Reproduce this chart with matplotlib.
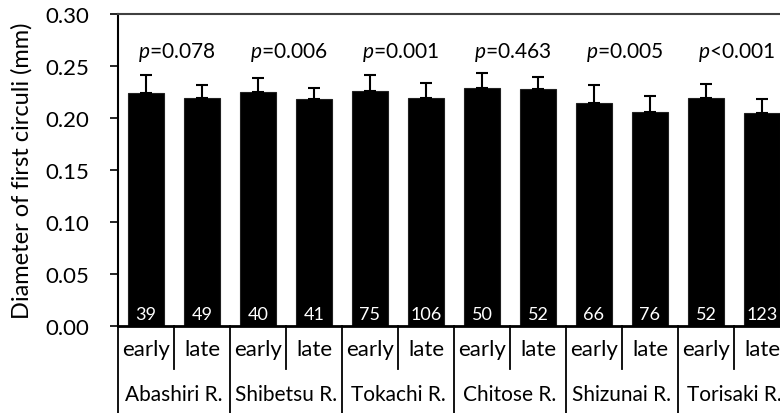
import matplotlib
matplotlib.use("Agg")
import matplotlib.pyplot as plt
import matplotlib.transforms as mtransforms
import numpy as np

rivers = ["Abashiri R.", "Shibetsu R.", "Tokachi R.", "Chitose R.", "Shizunai R.", "Torisaki R."]
groups = ["early", "late"]
means = [0.224, 0.219, 0.225, 0.218, 0.226, 0.219, 0.229, 0.2275, 0.214, 0.206, 0.2195, 0.205]
sds = [0.017, 0.013, 0.013, 0.011, 0.015, 0.0145, 0.014, 0.0115, 0.0177, 0.015, 0.013, 0.0135]
counts = [39, 49, 40, 41, 75, 106, 50, 52, 66, 76, 52, 123]
pvals = ["=0.078", "=0.006", "=0.001", "=0.463", "=0.005", "<0.001"]
yticks = [0.00, 0.05, 0.10, 0.15, 0.20, 0.25, 0.30]

plt.rcParams['font.family'] = ['Lato', 'DejaVu Sans']
plt.rcParams['mathtext.fontset'] = 'custom'
plt.rcParams['mathtext.it'] = 'Lato:italic'
plt.rcParams['mathtext.rm'] = 'Lato'

fig = plt.figure(figsize=(7.8, 4.14), dpi=100)
ax = fig.add_axes([118/780, 1-327/414, 672/780, 312/414])

n = len(means)
x = np.arange(n)
ax.bar(x, means, width=0.66, color='black', edgecolor='#202020', linewidth=0.8, zorder=2)
ax.errorbar(x, means, yerr=[np.zeros(n), sds], fmt='none', ecolor='black',
            elinewidth=1.5, capsize=4, capthick=1.5, zorder=3)

ax.set_xlim(-0.5, n - 0.5)
ax.set_ylim(0, 0.30)
ax.set_yticks(yticks)
ax.set_yticklabels([f"{v:.2f}" for v in yticks], fontsize=16)
ax.tick_params(axis='y', direction='out', length=6, width=1.2, pad=15)
ax.set_xticks([])
ax.set_ylabel("Diameter of first circuli (mm)", fontsize=17, labelpad=9)

ax.spines['right'].set_visible(False)
ax.spines['top'].set_color('#404040')
ax.spines['top'].set_linewidth(1.5)
ax.spines['left'].set_linewidth(1.5)
ax.spines['bottom'].set_linewidth(2)

trans = mtransforms.blended_transform_factory(ax.transData, ax.transAxes)

# counts inside bars
for xi, c in zip(x, counts):
    ax.text(xi, 0.012, str(c), color='white', ha='center', va='center', fontsize=13, zorder=4)

# p-values
for gi, p in enumerate(pvals):
    ax.text(2*gi + 0.55, 0.264, r"$\it{p}$" + p, ha='center', va='center', fontsize=15)

# category labels & separators
for xi in x:
    ax.text(xi, -0.074, groups[xi % 2], transform=trans, ha='center', va='center', fontsize=16)
for gi, r in enumerate(rivers):
    ax.text(2*gi + 0.5, -0.218, r, transform=trans, ha='center', va='center', fontsize=15)
for b in np.arange(n + 1) - 0.5:
    idx = int(b + 0.5)
    ybot = -0.32 if idx % 2 == 0 else -0.138
    ax.plot([b, b], [0, ybot], transform=trans, color='black', lw=1.3, clip_on=False)

fig.savefig("out.png", dpi=100)
